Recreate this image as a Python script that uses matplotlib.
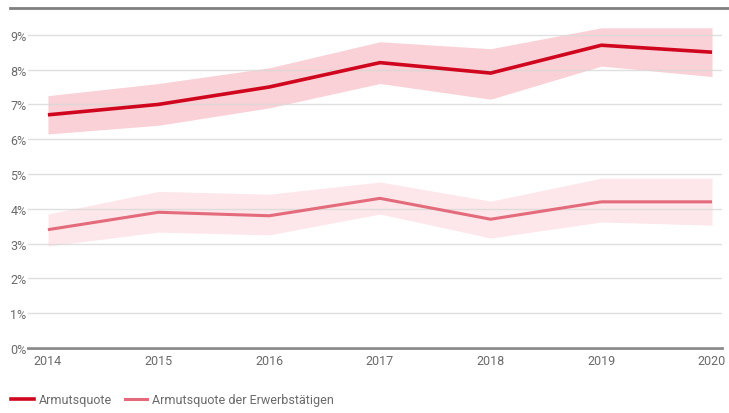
import numpy as np
import matplotlib.pyplot as plt
from matplotlib.lines import Line2D

plt.rcParams['font.family'] = ['Roboto', 'DejaVu Sans']

# --- data (values in percent) ---
years = [2014, 2015, 2016, 2017, 2018, 2019, 2020]

armut = [6.7, 7.0, 7.5, 8.2, 7.9, 8.7, 8.5]
armut_lo = [6.15, 6.4, 6.9, 7.6, 7.15, 8.1, 7.8]
armut_hi = [7.25, 7.6, 8.05, 8.8, 8.6, 9.2, 9.2]

erwerb = [3.4, 3.9, 3.8, 4.3, 3.7, 4.2, 4.2]
erwerb_lo = [2.93, 3.33, 3.25, 3.85, 3.16, 3.62, 3.53]
erwerb_hi = [3.85, 4.5, 4.42, 4.77, 4.22, 4.88, 4.88]

yticks = list(range(0, 10))
ytick_labels = [f'{v}%' for v in yticks]

c_main = '#d0061f'
c_main_band = '#f9d1d6'
c_sec = '#e36b7b'
c_sec_band = '#fde7ea'
c_text = '#6a6a6a'

fig = plt.figure(figsize=(7.29, 4.14), dpi=100)
ax = fig.add_axes([0.0384, 0.157, 0.952, 0.807])

ax.fill_between(years, erwerb_lo, erwerb_hi, color=c_sec_band, lw=0, zorder=1)
ax.fill_between(years, armut_lo, armut_hi, color=c_main_band, lw=0, zorder=1)
ax.plot(years, erwerb, color=c_sec, lw=2.2, zorder=3, solid_capstyle='butt')
ax.plot(years, armut, color=c_main, lw=2.6, zorder=3, solid_capstyle='butt')

ax.set_xlim(2014 - 0.18, 2020 + 0.09)
ax.set_ylim(0, 9.6)
ax.set_yticks(yticks)
ax.set_yticklabels(ytick_labels)
ax.set_xticks(years)
ax.set_xticklabels([str(y) for y in years])
ax.tick_params(axis='both', length=0, labelsize=9, colors=c_text)
ax.tick_params(axis='y', pad=1)
ax.tick_params(axis='x', pad=4)

ax.set_axisbelow(False)
ax.grid(axis='y', color='#d8d8d8', lw=1, zorder=2, alpha=0.8)
ax.grid(axis='x', visible=False)
for s in ax.spines.values():
    s.set_visible(False)
ax.axhline(0, color='#8a8a8a', lw=2, zorder=2, clip_on=False)

# top rule
fig.add_artist(Line2D([0.014, 1.0], [0.978, 0.978], color='#808080', lw=2))

handles = [Line2D([], [], color=c_main, lw=2.6),
           Line2D([], [], color=c_sec, lw=2.2)]
fig.legend(handles, ['Armutsquote', 'Armutsquote der Erwerbstätigen'],
           loc='lower left', bbox_to_anchor=(0.0, -0.01), ncol=2, frameon=False,
           fontsize=9, handlelength=1.8, handletextpad=0.4, columnspacing=1.0,
           labelcolor=c_text)

fig.savefig('out.png', dpi=100)
